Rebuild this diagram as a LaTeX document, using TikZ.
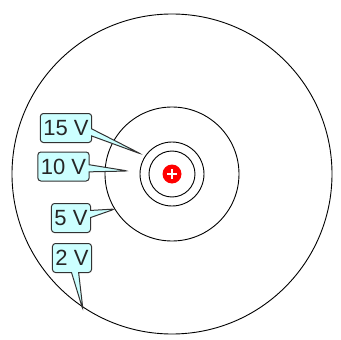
\documentclass[tikz,border=0pt]{standalone}
\usepackage{fontspec}
\setmainfont{Liberation Sans}
\usetikzlibrary{shapes.callouts}
\definecolor{callfill}{RGB}{204,255,255}
\definecolor{calldraw}{RGB}{50,50,50}
\tikzset{
  ring/.style={draw=black, line width=0.9pt},
  lbl/.style={rectangle callout, fill=callfill, draw=calldraw, line width=1pt,
    rounded corners=3pt, inner xsep=3pt, inner ysep=2pt, minimum height=29pt,
    font=\fontsize{22}{22}\selectfont, text=black!85}
}
\begin{document}
\begin{tikzpicture}[x=1pt,y=-1pt]
\useasboundingbox (0,0) rectangle (341,340);
\coordinate (c) at (172,174);
\draw[ring] (c) circle (160);
\draw[ring] (c) circle (67);
\draw[ring] (c) circle (32);
\draw[ring] (c) circle (23);
\node[circle, fill=red, minimum size=19pt, inner sep=0pt] (q) at (c) {};
\draw[white, line width=2pt] ([xshift=-5pt]q.center) -- ([xshift=5pt]q.center)
  ([yshift=-5pt]q.center) -- ([yshift=5pt]q.center);
\coordinate (p15) at (141,154);
\coordinate (p10) at (128,171);
\coordinate (p5) at (115,209);
\coordinate (p2) at (83,310);
\node[lbl, callout absolute pointer={(p15)}] (l15) at (66,128) {15 V};
\node[lbl, callout absolute pointer={(p10)}] (l10) at (63.5,166.5) {10 V};
\node[lbl, callout absolute pointer={(p5)}] (l5) at (71,218) {5 V};
\node[lbl, callout absolute pointer={(p2)}] (l2) at (72,258) {2 V};
\end{tikzpicture}
\end{document}
